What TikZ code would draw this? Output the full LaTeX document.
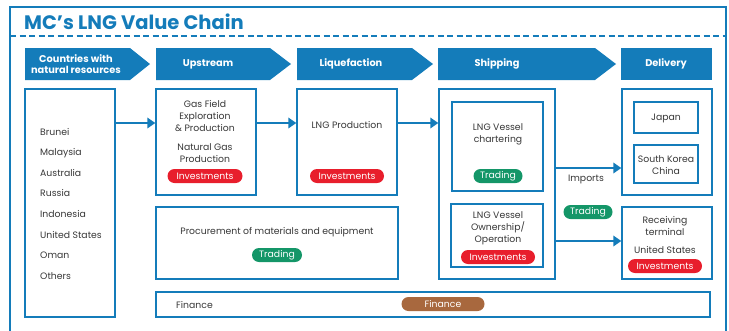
\documentclass[tikz,border=0pt]{standalone}
\usepackage{fontspec}
\setmainfont{Poppins}
\usetikzlibrary{arrows.meta}
\definecolor{mcblue}{RGB}{20,124,186}
\definecolor{invred}{RGB}{232,30,44}
\definecolor{trdgreen}{RGB}{20,150,104}
\definecolor{finbrown}{RGB}{168,104,62}
\definecolor{txtgray}{RGB}{55,55,55}
\tikzset{
	box/.style={draw=mcblue,line width=1.4pt,inner sep=0pt},
	txt/.style={font=\fontsize{9.3}{12}\selectfont,text=txtgray,align=center,inner sep=0pt},
	pill/.style={rounded corners=7pt,minimum height=14pt,inner sep=0pt,text=white,font=\fontsize{9.3}{10}\selectfont},
	hdrtxt/.style={text=white,font=\fontsize{9.8}{11.5}\selectfont\bfseries,align=center,inner sep=0pt},
	flow/.style={draw=mcblue,line width=2.8pt,-{Triangle[length=8pt,width=10.5pt]}}
}
\begin{document}
\begin{tikzpicture}[x=1pt,y=-1pt]
	\useasboundingbox (0,0) rectangle (729,330);
	\draw [mcblue,line width=2pt] (10,334) -- (10,7) -- (726,7) -- (726,334);
	\draw [mcblue,line width=2pt,dash pattern=on 6pt off 3.5pt] (10,36) -- (726,36);
	\node [anchor=base west,inner sep=0pt,text=mcblue,font=\fontsize{19.5}{22}\selectfont\bfseries] (title) at (24,29.5) {MC's LNG Value Chain};
	\fill [mcblue] (25,48) -- (130,48) -- (150,64) -- (130,80) -- (25,80) -- cycle;
	\fill [mcblue] (156,48) -- (270,48) -- (291,64) -- (270,80) -- (156,80) -- cycle;
	\fill [mcblue] (297,48) -- (412,48) -- (433,64) -- (412,80) -- (297,80) -- cycle;
	\fill [mcblue] (438,48) -- (595,48) -- (616,64) -- (595,80) -- (438,80) -- cycle;
	\fill [mcblue] (621,48) rectangle (712,80);
	\node [hdrtxt] (hcountries) at (76,64) {Countries with\\natural resources};
	\node [hdrtxt] (hupstream) at (208,64) {Upstream};
	\node [hdrtxt] (hliquef) at (351,64) {Liquefaction};
	\node [hdrtxt] (hshipping) at (497,64) {Shipping};
	\node [hdrtxt] (hdelivery) at (666,64) {Delivery};
	\node [box,minimum width=90pt,minimum height=228pt] (countries) at (70,203) {};
	\node [box,minimum width=100pt,minimum height=106pt] (upstream) at (206,142) {};
	\node [box,minimum width=100pt,minimum height=106pt] (liquef) at (347,142) {};
	\node [box,minimum width=116pt,minimum height=190pt] (shipping) at (497,184) {};
	\node [box,minimum width=91pt,minimum height=89pt] (charter) at (497.5,146.5) {};
	\node [box,minimum width=92pt,minimum height=63pt] (ownership) at (497,235.5) {};
	\node [box,minimum width=90pt,minimum height=106pt] (delivery) at (667,142) {};
	\node [box,minimum width=64pt,minimum height=31pt] (japan) at (666,117.5) {};
	\node [box,minimum width=64pt,minimum height=38pt] (korea) at (666,164) {};
	\node [box,minimum width=90pt,minimum height=72pt] (receiving) at (667,243) {};
	\node [box,minimum width=242pt,minimum height=72pt] (procure) at (277,243) {};
	\node [box,minimum width=554pt,minimum height=25pt] (finance) at (433,304.5) {};
	\foreach \cname [count=\i from 0] in {Brunei,Malaysia,Australia,Russia,Indonesia,United States,Oman,Others}
		\node [txt,anchor=base west] (country\i) at (40,135+20.6*\i) {\cname};
	\node [txt] (gasfield) at (205,116) {Gas Field\\Exploration\\\& Production};
	\node [txt] (natgas) at (205,153) {Natural Gas\\Production};
	\node [txt] (lngprod) at (347,125) {LNG Production};
	\node [txt] (chartertxt) at (498,134.5) {LNG Vessel\\chartering};
	\node [txt] (japantxt) at (666,118) {Japan};
	\node [txt] (koreatxt) at (666,165) {South Korea\\China};
	\node [txt] (ownertxt) at (498,228) {LNG Vessel\\Ownership/\\Operation};
	\node [txt] (recvtxt) at (665,226) {Receiving\\terminal};
	\node [txt] (ustxt) at (665,250) {United States};
	\node [txt] (imports) at (586,179) {Imports};
	\node [txt] (procuretxt) at (277,232) {Procurement of materials and equipment};
	\node [txt,anchor=west] (financetxt) at (176,305) {Finance};
	\node [pill,fill=invred,minimum width=75pt] (inv1) at (205,176) {Investments};
	\node [pill,fill=invred,minimum width=74pt] (inv2) at (347,176) {Investments};
	\node [pill,fill=trdgreen,minimum width=49pt] (trd1) at (498,176) {Trading};
	\node [pill,fill=invred,minimum width=74pt] (inv3) at (498,257) {Investments};
	\node [pill,fill=invred,minimum width=74pt] (inv4) at (665,266) {Investments};
	\node [pill,fill=trdgreen,minimum width=50pt] (trd2) at (277,255) {Trading};
	\node [pill,fill=trdgreen,minimum width=49pt] (trd3) at (588,212) {Trading};
	\node [pill,fill=finbrown,minimum width=83pt] (fin) at (443,304) {Finance};
	\draw [flow] (countries.east |- 0,123) -- (upstream.west |- 0,123);
	\draw [flow] (upstream.east |- 0,123) -- (liquef.west |- 0,123);
	\draw [flow] (liquef.east |- 0,123) -- (shipping.west |- 0,123);
	\draw [flow] (shipping.east |- 0,168) -- (delivery.west |- 0,168);
	\draw [flow] (shipping.east |- 0,241) -- (receiving.west |- 0,241);
\end{tikzpicture}
\end{document}
